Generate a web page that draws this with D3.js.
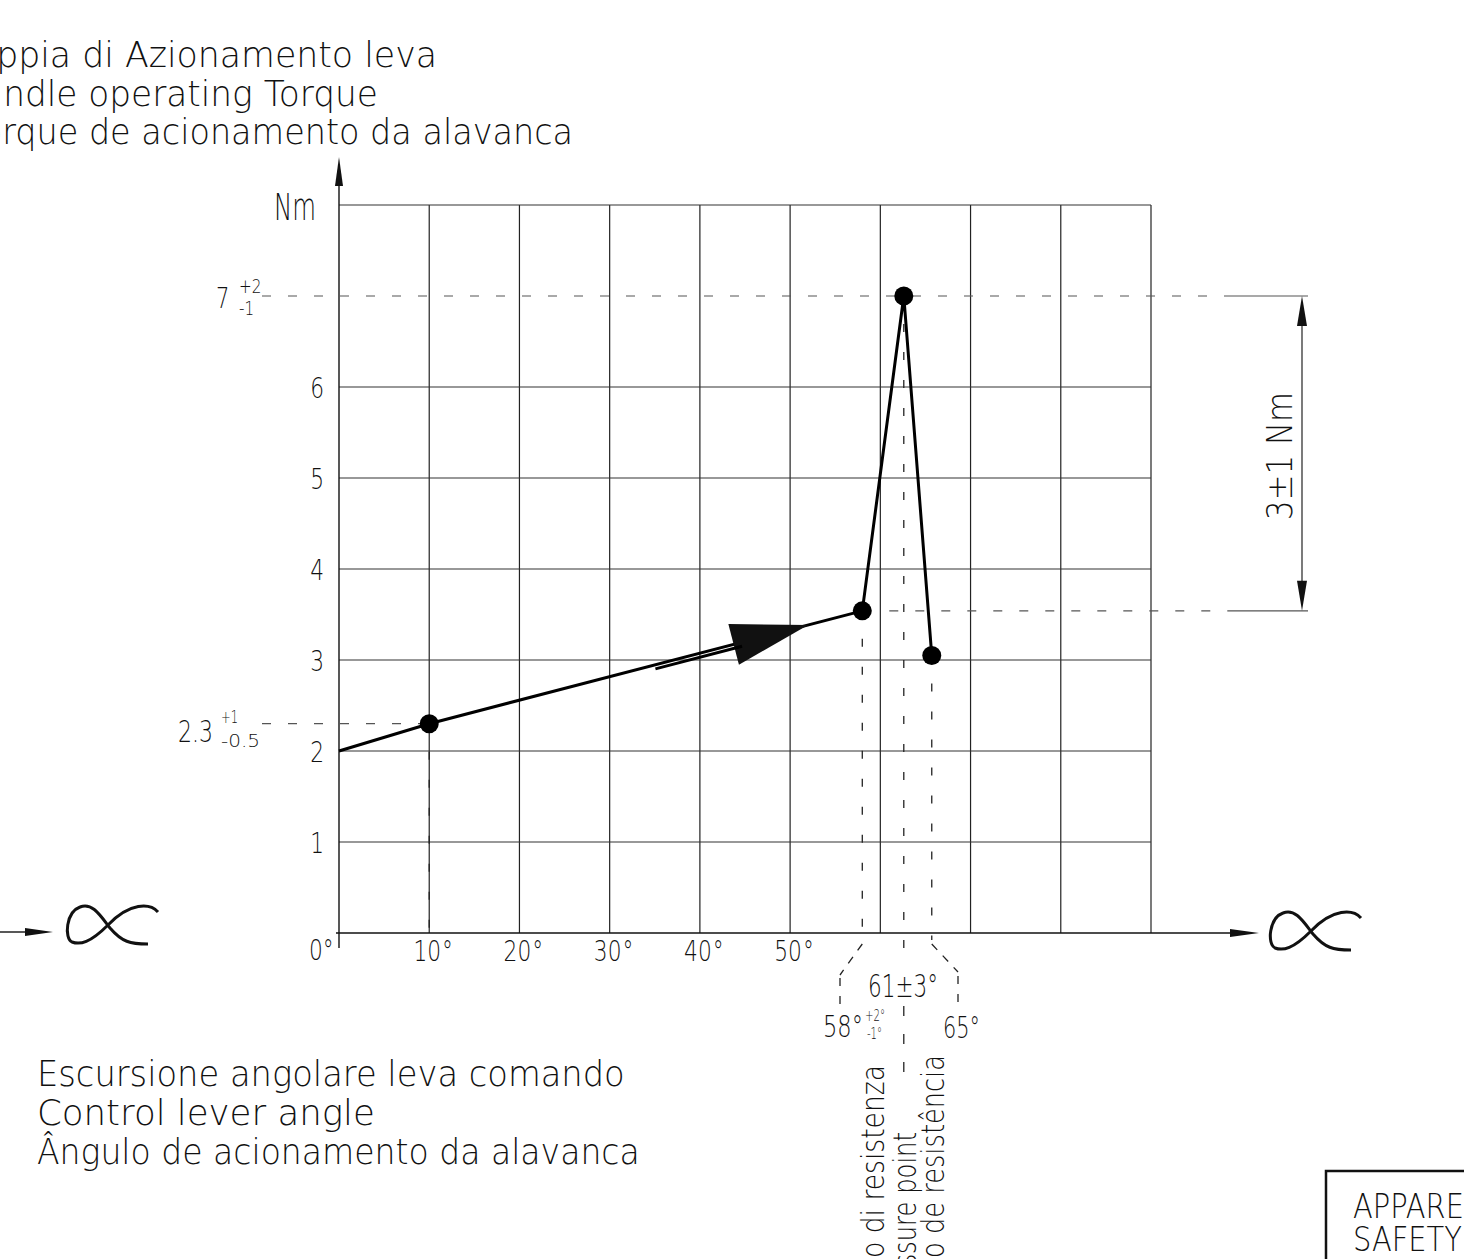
<!DOCTYPE html>
<html>
<head>
<meta charset="utf-8">
<script src="https://cdn.jsdelivr.net/npm/d3@7"></script>
<style>
body{margin:0;background:#fff}
svg{display:block}
</style>
</head>
<body>
<div id="chart"></div>
<script>
// torque curve of the lever
const angles = [0, 10, 58, 62.6, 65.7]
const torques = [2, 2.3, 3.54, 7, 3.05]
const dotIdx = [1, 2, 3, 4]

const gridAngles = [10, 20, 30, 40, 50, 60, 70, 80, 90]
const gridTorques = [1, 2, 3, 4, 5, 6, 8]
const yTicks = [1, 2, 3, 4, 5, 6]
const xTicks = [10, 20, 30, 40, 50]

const titleLines = ['Coppia di Azionamento leva', 'Handle operating Torque', 'Torque de acionamento da alavanca']
const xTitleLines = ['Escursione angolare leva comando', 'Control lever angle', 'Ângulo de acionamento da alavanca']
const pointLines = ['Punto di resistenza', 'Pressure point', 'Ponto de resistência']
const boxLines = ['APPARECCHIO', 'SAFETY DEVICE']

init()

function init(){
    const W = 1464, H = 1259

    let svg = d3.select('#chart')
                .append('svg')
                .attr('width', W)
                .attr('height', H)
                .style('font-family', '"DejaVu Sans", sans-serif')
                .style('font-weight', 200)
                .style('overflow', 'hidden')

    const x = d3.scaleLinear().domain([0, 90]).range([339, 1151])
    const y = d3.scaleLinear().domain([0, 8]).range([933, 205])

    // natural width of a string at a font size
    function measure(str, size){
        let t = svg.append('text').style('font-size', size + 'px').text(str)
        const w = t.node().getComputedTextLength()
        t.remove()
        return w
    }

    // text squeezed horizontally by sx, like the narrow CAD font
    function txt(g, str, tx, ty, size, sx, anchor, rot){
        return g.append('text')
            .attr('transform', `translate(${tx},${ty}) rotate(${rot || 0}) scale(${sx},1)`)
            .attr('text-anchor', anchor || 'start')
            .style('font-size', size + 'px')
            .style('fill', '#111')
            .text(str)
    }
    function fit(g, str, tx, ty, size, width, anchor, rot){
        return txt(g, str, tx, ty, size, width / measure(str, size), anchor, rot)
    }

    function seg(g, x1, y1, x2, y2, w, col, dash){
        let l = g.append('line')
            .attr('x1', x1).attr('y1', y1).attr('x2', x2).attr('y2', y2)
            .style('stroke', col || '#222')
            .style('stroke-width', w || 1.2)
        if (dash) l.style('stroke-dasharray', dash)
        return l
    }

    function head(g, tx, ty, dx, dy, len, hw){
        // arrow head with tip at (tx,ty) pointing along (dx,dy)
        const bx = tx - dx * len, by = ty - dy * len
        g.append('path')
            .attr('d', `M${tx},${ty}L${bx - dy * hw},${by + dx * hw}L${bx + dy * hw},${by - dx * hw}Z`)
            .style('fill', '#111')
    }

    const grid = svg.append('g')
    gridAngles.forEach(a => seg(grid, x(a), y(8), x(a), y(0), 1.2, '#222'))
    gridTorques.forEach(t => seg(grid, x(0), y(t), x(90), y(t), 1.2, '#333'))

    // axes
    const ax = svg.append('g')
    seg(ax, x(0), 948, x(0), 185, 1.4, '#111')
    head(ax, x(0), 157, 0, -1, 29, 4)
    seg(ax, x(0) - 3, y(0), 1232, y(0), 1.4, '#111')
    head(ax, 1259, y(0), 1, 0, 29, 4)
    seg(ax, 0, 932, 27, 932, 1.4, '#111')
    head(ax, 53, 932, 1, 0, 28, 4)

    const alpha = 'M91,7 C83,-2 63,-3 41,20 C23,38 13,40 5,37 C-3,33 -1,7 13,2 C25,-3 33,10 43,23 C55,37 63,39 81,39'
    ax.append('path').attr('d', alpha).attr('transform', 'translate(67,905)')
        .style('fill', 'none').style('stroke', '#111').style('stroke-width', 3)
    ax.append('path').attr('d', alpha).attr('transform', 'translate(1270,911)')
        .style('fill', 'none').style('stroke', '#111').style('stroke-width', 3)

    // dashed reference lines
    const ref = svg.append('g')
    const dashH = '9,17', dashV = '8,20'
    seg(ref, 262, y(7), 1226, y(7), 1.2, '#555', dashH)
    seg(ref, 1226, y(7), 1308, y(7), 1.2, '#555')
    seg(ref, 262, y(2.3), x(10), y(2.3), 1.2, '#555', dashH)
    seg(ref, x(58) + 27, y(torques[2]), 1232, y(torques[2]), 1.2, '#555', dashH)
    seg(ref, 1232, y(torques[2]), 1308, y(torques[2]), 1.2, '#555')

    seg(ref, x(angles[1]), y(torques[1]), x(angles[1]), y(0), 1.3, '#222', dashV)
    seg(ref, x(angles[2]), y(torques[2]), x(angles[2]), 940, 1.3, '#222', dashV)
    seg(ref, x(angles[2]), 944, 840, 975, 1.3, '#222', '8,8')
    seg(ref, 840, 978, 840, 1005, 1.3, '#222', '8,10')
    seg(ref, x(angles[3]), y(torques[3]), x(angles[3]), 962, 1.3, '#222', dashV)
    seg(ref, x(angles[3]), 1006, x(angles[3]), 1077, 1.3, '#222', '10,18')
    seg(ref, x(angles[4]), y(torques[4]), x(angles[4]), 940, 1.3, '#222', dashV)
    seg(ref, x(angles[4]), 944, 958, 972, 1.3, '#222', '8,8')
    seg(ref, 958, 976, 958, 1004, 1.3, '#222', '8,10')

    // 3±1 Nm dimension
    seg(ref, 1302, y(7) + 20, 1302, y(torques[2]) - 20, 1.2, '#222')
    head(ref, 1302, y(7), 0, -1, 30, 5)
    head(ref, 1302, y(torques[2]), 0, 1, 30, 5)
    fit(ref, '3±1 Nm', 1292, 456, 36, 128, 'middle', -90)

    // torque curve
    const pts = angles.map((a, i) => [x(a), y(torques[i])])
    svg.append('path')
        .attr('d', d3.line()(pts))
        .style('fill', 'none')
        .style('stroke', '#000')
        .style('stroke-width', 3)
        .style('stroke-linejoin', 'miter')

    // direction arrow on the rising part
    const p1 = pts[1], p2 = pts[2]
    const L = Math.hypot(p2[0] - p1[0], p2[1] - p1[1])
    const ux = (p2[0] - p1[0]) / L, uy = (p2[1] - p1[1]) / L
    const tip = [p1[0] + ux * L * 0.875, p1[1] + uy * L * 0.875]
    head(svg, tip[0], tip[1], ux, uy, 77, 21)
    const s0 = 0.52, s1 = 0.72
    seg(svg, p1[0] + ux * L * s0 - uy * 4, p1[1] + uy * L * s0 + ux * 4,
             p1[0] + ux * L * s1 - uy * 4, p1[1] + uy * L * s1 + ux * 4, 3, '#000')

    svg.append('g').selectAll('circle')
        .data(dotIdx)
        .enter().append('circle')
        .attr('cx', i => x(angles[i]))
        .attr('cy', i => y(torques[i]))
        .attr('r', 9.5)
        .style('fill', '#000')

    // tick labels
    const lab = svg.append('g')
    yTicks.forEach(t => txt(lab, String(t), 324, y(t) + 11, 29, 0.75, 'end'))
    xTicks.forEach(a => {
        const w = measure(String(a), 29) * 0.75
        txt(lab, String(a), x(a) - 2, 961, 29, 0.75, 'middle')
        txt(lab, '°', x(a) - 2 + w / 2 + 1, 961, 29, 0.75)
    })
    txt(lab, '0°', 309, 960, 29, 0.75)
    fit(lab, 'Nm', 316, 220, 37, 42, 'end')

    txt(lab, '7', 216, 308, 28, 0.75)
    txt(lab, '+2', 239, 293, 19, 0.8)
    txt(lab, '-1', 239, 315, 19, 0.8)
    fit(lab, '2.3', 178, 742, 30, 35)
    fit(lab, '+1', 221, 723, 18, 17)
    fit(lab, '-0.5', 221, 747, 18, 39)

    fit(lab, '61±3°', 868, 997, 32, 70)
    fit(lab, '58°', 823, 1037, 30, 40)
    fit(lab, '+2°', 865, 1021, 16, 20)
    fit(lab, '-1°', 867, 1039, 16, 15)
    fit(lab, '65°', 943, 1038, 30, 37)

    // rotated labels run off the bottom edge; scale from the visible tail of each
    const pTail = ['o di resistenza', 'sure point', 'o de resistência']
    const pTop = [1065, 1132, 1055], pBase = [884, 916, 944], pBot = [1258, 1254, 1258]
    pointLines.forEach((s, i) => {
        const sx = (pBot[i] - pTop[i]) / measure(pTail[i], 32)
        txt(lab, s, pBase[i], pTop[i], 32, sx, 'end', -90)
    })

    // axis titles, cut at the left edge: scale from the visible tail
    const tTail = ['pia di Azionamento leva', 'ndle operating Torque', 'rque de acionamento da alavanca']
    const tEnd = [437, 378, 573], tStart = [18, 3, 2]
    titleLines.forEach((s, i) => {
        const sx = (tEnd[i] - tStart[i]) / measure(tTail[i], 36)
        txt(lab, s, tEnd[i], 67 + i * 38.5, 36, sx, 'end')
    })
    xTitleLines.forEach((s, i) => fit(lab, s, 37, 1086 + i * 39, 36, [588, 338, 603][i]))

    // title block corner
    svg.append('rect')
        .attr('x', 1326).attr('y', 1171).attr('width', 300).attr('height', 200)
        .style('fill', 'none').style('stroke', '#111').style('stroke-width', 2.5)
    const bsx = 111 / measure('APPARE', 34)
    boxLines.forEach((s, i) => txt(lab, s, 1353, 1218 + i * 33, 34, bsx))
}
</script>
</body>
</html>
